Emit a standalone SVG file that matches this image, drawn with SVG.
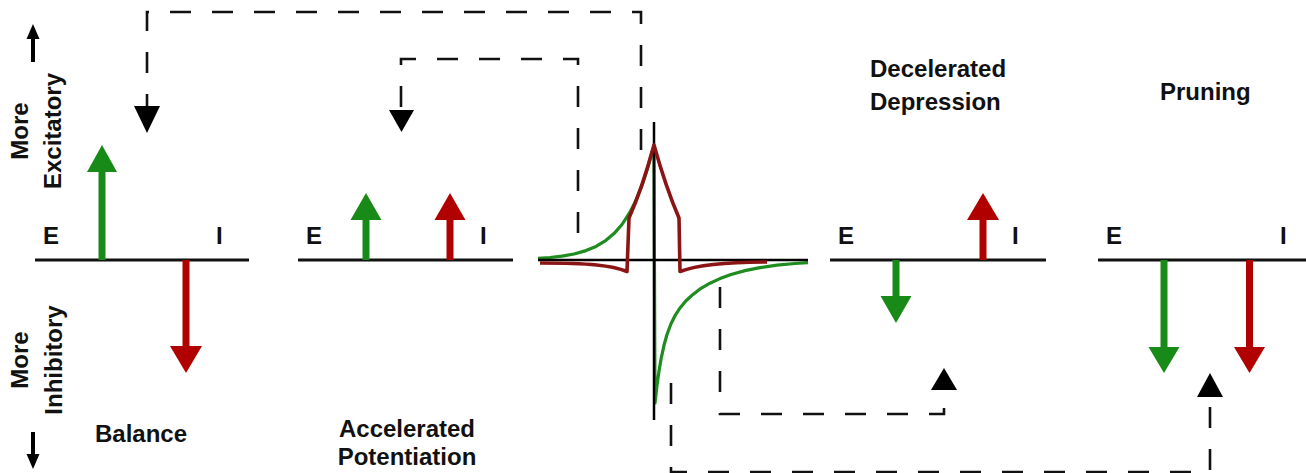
<svg xmlns="http://www.w3.org/2000/svg" width="1306" height="473" viewBox="0 0 1306 473">
<style>
  text { font-family: "Liberation Sans", Arial, sans-serif; font-weight: bold; font-size: 24px; fill: #111; }
  .base { stroke: #111; stroke-width: 3; fill: none; }
  .axis { stroke: #000; stroke-width: 2.5; fill: none; }
  .gs { stroke: #178a17; stroke-width: 7; fill: none; }
  .rs { stroke: #b00000; stroke-width: 7; fill: none; }
  .gh { fill: #178a17; }
  .rh { fill: #b00000; }
  .dash { stroke: #111; stroke-width: 2.6; fill: none; stroke-dasharray: 21 21; }
  .tri { fill: #000; }
  .gc { stroke: #1e8c1e; stroke-width: 3.2; fill: none; stroke-linejoin: round; }
  .rc { stroke: #8b1515; stroke-width: 3.6; fill: none; stroke-linejoin: round; }
</style>

<g id="axis-labels">
  <line x1="33" y1="62" x2="33" y2="36" stroke="#000" stroke-width="4"/>
  <polygon points="26.5,39 39.5,39 33,24" class="tri"/>
  <text transform="translate(28,131) rotate(-90)" text-anchor="middle">More</text>
  <text transform="translate(61,131) rotate(-90)" text-anchor="middle">Excitatory</text>
  <text transform="translate(28,360) rotate(-90)" text-anchor="middle">More</text>
  <text transform="translate(62,360) rotate(-90)" text-anchor="middle">Inhibitory</text>
  <line x1="33" y1="432" x2="33" y2="457" stroke="#000" stroke-width="4"/>
  <polygon points="26.5,454 39.5,454 33,469" class="tri"/>
</g>

<g id="balance">
  <line x1="35" y1="260" x2="249" y2="260" class="base"/>
  <text x="43" y="244">E</text>
  <text x="216" y="244">I</text>
  <line x1="102" y1="260" x2="102" y2="170" class="gs"/>
  <polygon points="87,172 117,172 102,145" class="gh"/>
  <line x1="186" y1="260" x2="186" y2="348" class="rs"/>
  <polygon points="170,346 202,346 186,373" class="rh"/>
  <text x="141" y="442" text-anchor="middle">Balance</text>
</g>

<g id="accelerated-potentiation">
  <line x1="298" y1="260" x2="513" y2="260" class="base"/>
  <text x="306" y="244">E</text>
  <text x="480" y="244">I</text>
  <line x1="366" y1="260" x2="366" y2="218" class="gs"/>
  <polygon points="350.5,220 381.5,220 366,193" class="gh"/>
  <line x1="450" y1="260" x2="450" y2="218" class="rs"/>
  <polygon points="434.5,220 465.5,220 450,193" class="rh"/>
  <text x="407" y="437" text-anchor="middle">Accelerated</text>
  <text x="407" y="465" text-anchor="middle">Potentiation</text>
</g>

<g id="stdp-curve">
  <polyline class="gc" points="538,258.4 550,257.5 562,256.1 574,254 586,250.6 596,246.4 606,240.3 614,233.6 622,224.5 630,212.2 636,200.3 642,185.4 647,170.3 652,152 654,152 655,403 657,385.3 659,371 661,359.2 664,345.3 667,334.5 671,323.8 675,315.7 680,308 686,300.8 693,294.4 701,288.3 710,283.2 720,278.6 731,274.5 745,270.6 760,267.6 777,265.2 795,263.5 808,262.6"/>
  <line x1="538" y1="260" x2="808" y2="260" class="axis"/>
  <line x1="654" y1="122" x2="654" y2="420" class="axis"/>
  <path class="rc" d="M540,263 C590,263 612,265.5 627,271.5 L629,218 Q642,189 654,145 Q666,188 679,218 L680,271.5 C700,264 730,262 767,262"/>
</g>

<g id="decelerated-depression">
  <text x="870" y="77">Decelerated</text>
  <text x="870" y="110">Depression</text>
  <line x1="830" y1="260" x2="1046" y2="260" class="base"/>
  <text x="838" y="244">E</text>
  <text x="1012" y="244">I</text>
  <line x1="896" y1="260" x2="896" y2="298" class="gs"/>
  <polygon points="880.5,296 911.5,296 896,323" class="gh"/>
  <line x1="983" y1="260" x2="983" y2="218" class="rs"/>
  <polygon points="967,220 999,220 983,193" class="rh"/>
</g>

<g id="pruning">
  <text x="1160" y="100">Pruning</text>
  <line x1="1098" y1="260" x2="1306" y2="260" class="base"/>
  <text x="1106" y="244">E</text>
  <text x="1280" y="244">I</text>
  <line x1="1164" y1="260" x2="1164" y2="349" class="gs"/>
  <polygon points="1148.5,347 1179.5,347 1164,373" class="gh"/>
  <line x1="1249.5" y1="260" x2="1249.5" y2="349" class="rs"/>
  <polygon points="1234,347 1265,347 1249.5,373" class="rh"/>
</g>

<g id="connectors">
  <polyline class="dash" points="641,150 641,12 147,12 147,108"/>
  <polygon class="tri" points="134,106 160,106 147,133"/>
  <polyline class="dash" points="578,233 578,59 401,59 401,111"/>
  <polygon class="tri" points="389,110 414,110 401.5,132"/>
  <polyline class="dash" points="720,287 720,414 944,414 944,391"/>
  <polygon class="tri" points="931,390 957,390 944,368"/>
  <polyline class="dash" points="671,383 671,472 1210,472 1210,398"/>
  <polygon class="tri" points="1197,397 1223,397 1210,373"/>
</g>
</svg>
